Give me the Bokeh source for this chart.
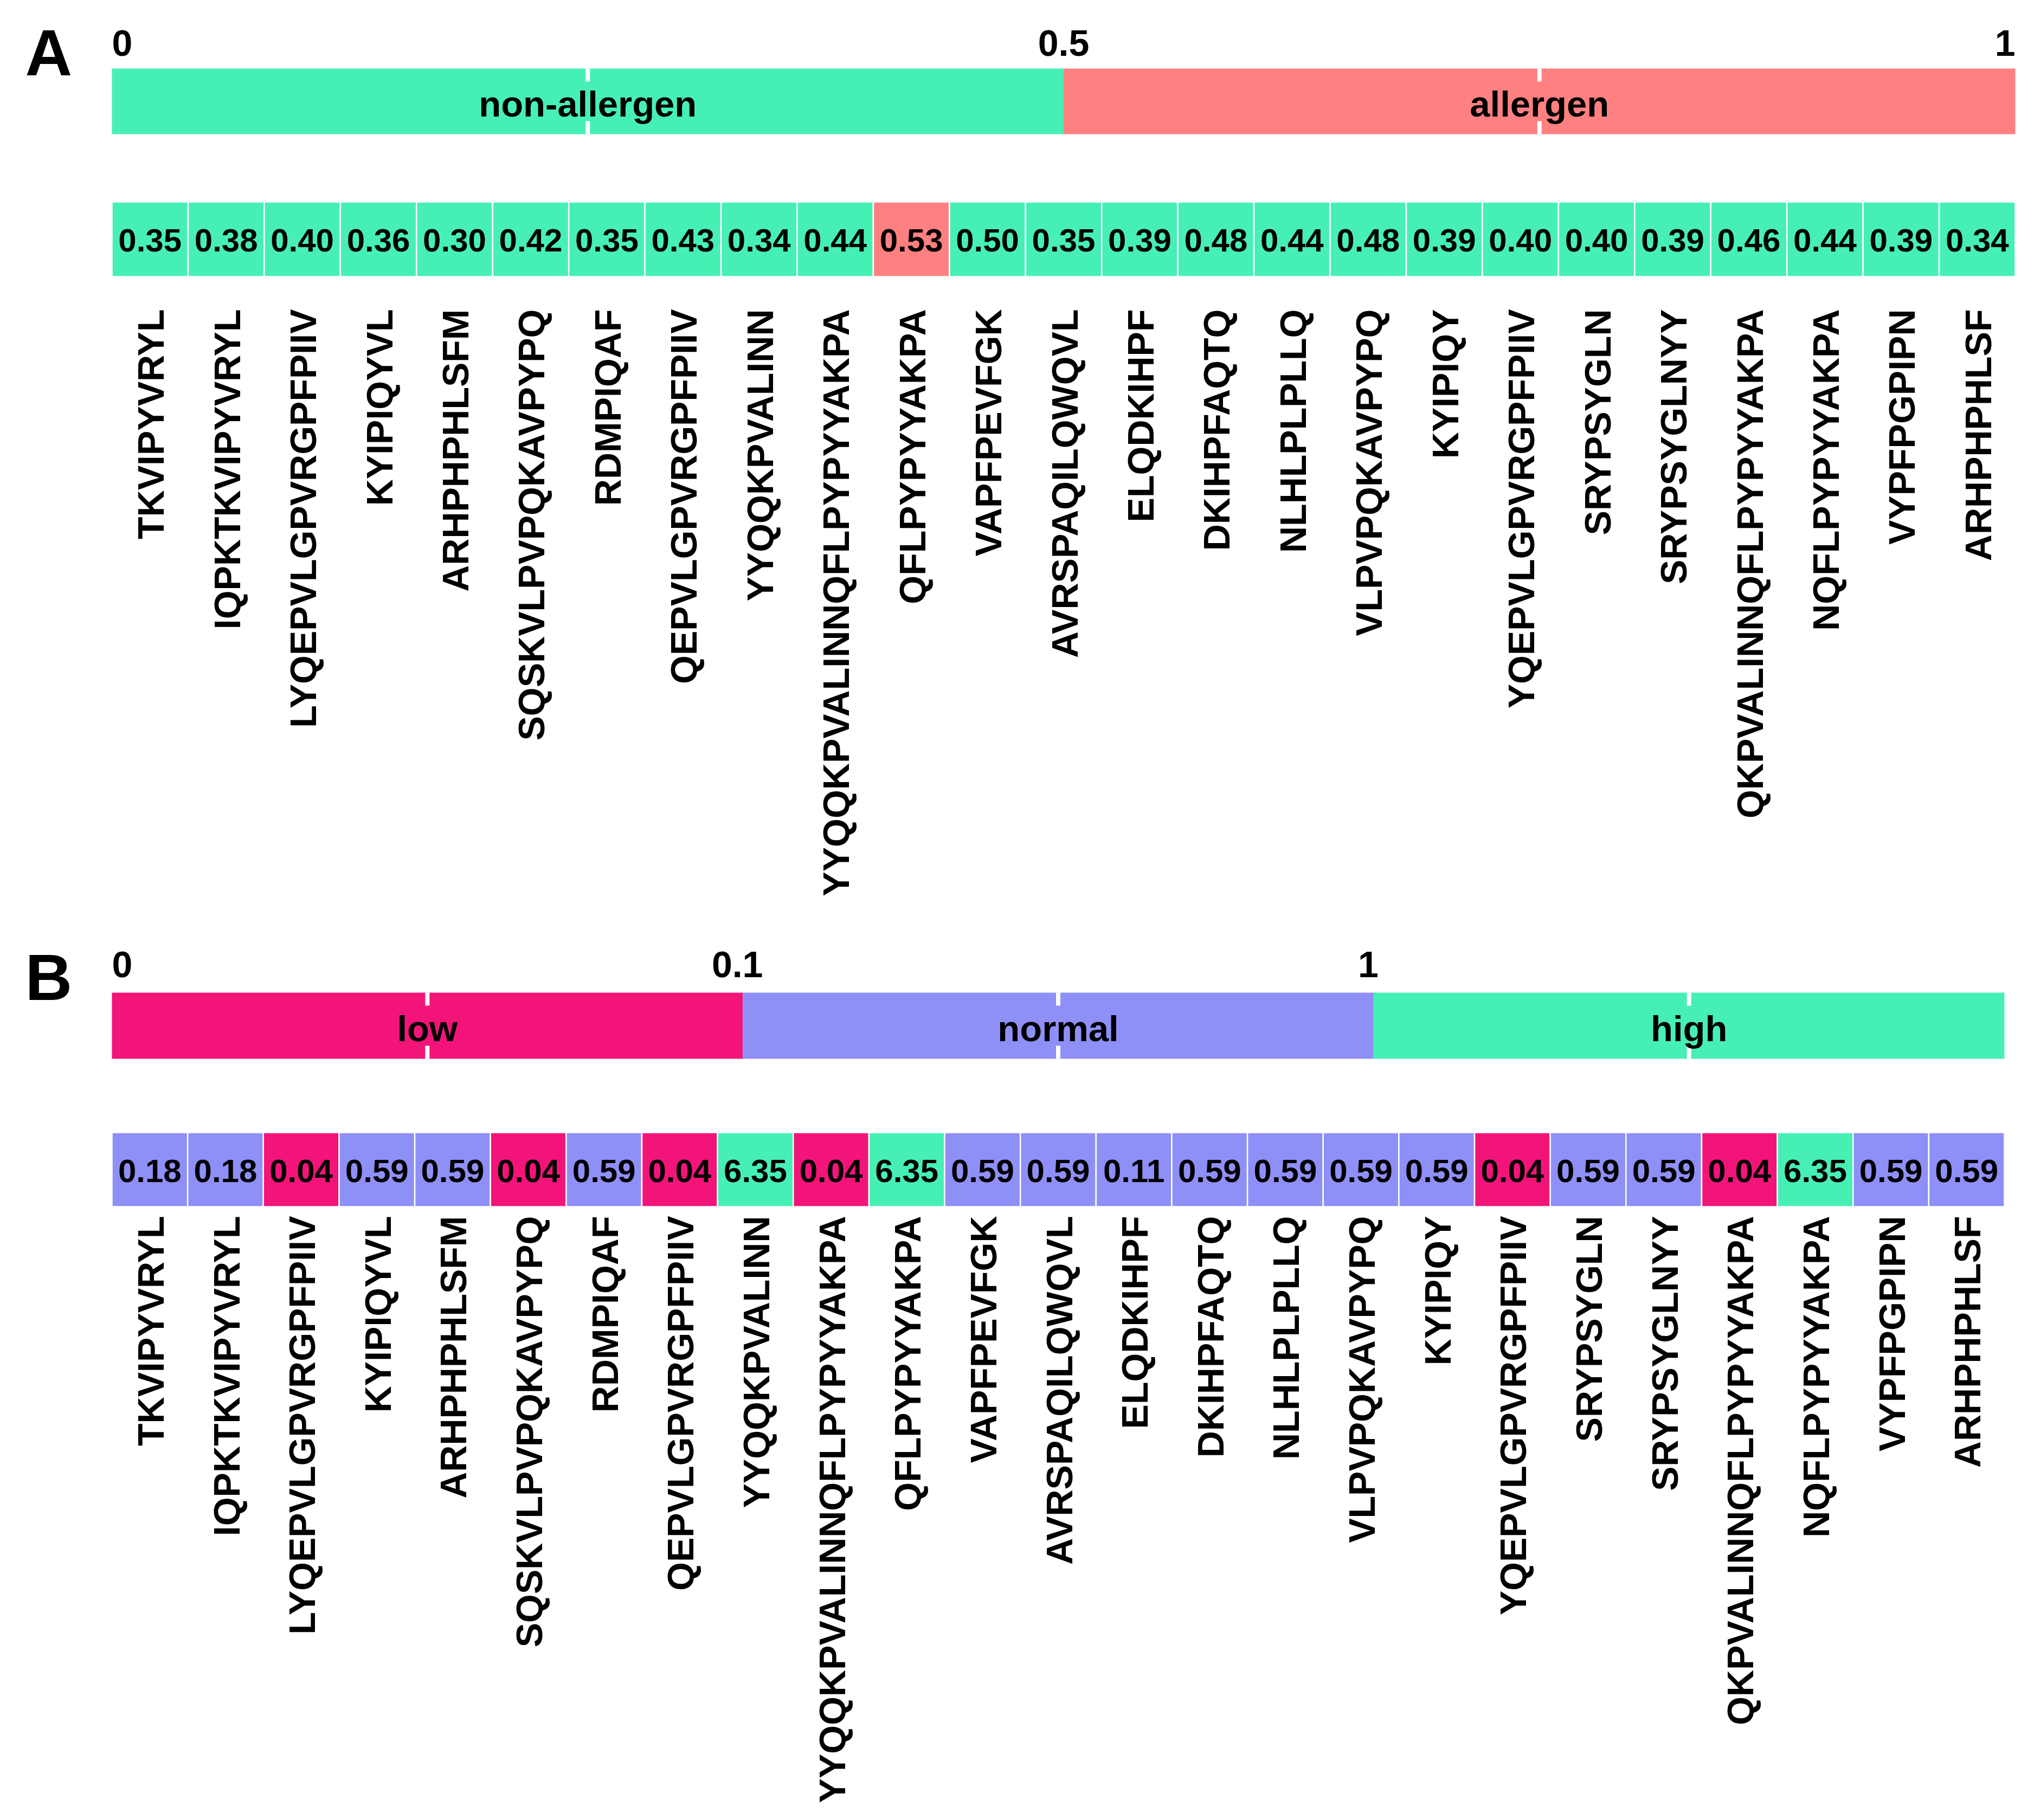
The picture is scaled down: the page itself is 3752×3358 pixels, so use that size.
import math
from bokeh.plotting import figure
from bokeh.layouts import column
from bokeh.models import Range1d
from bokeh.core.properties import value
from bokeh.embed import file_html
from bokeh.resources import INLINE

# ---------------- data ----------------
peptides = [
    "TKVIPYVRYL", "IQPKTKVIPYVRYL", "LYQEPVLGPVRGPFPIIV", "KYIPIQYVL",
    "ARHPHPHLSFM", "SQSKVLPVPQKAVPYPQ", "RDMPIQAF", "QEPVLGPVRGPFPIIV",
    "YYQQKPVALINN", "YYQQKPVALINNQFLPYPYYAKPA", "QFLPYPYYAKPA", "VAPFPEVFGK",
    "AVRSPAQILQWQVL", "ELQDKIHPF", "DKIHPFAQTQ", "NLHLPLPLLQ",
    "VLPVPQKAVPYPQ", "KYIPIQY", "YQEPVLGPVRGPFPIIV", "SRYPSYGLN",
    "SRYPSYGLNYY", "QKPVALINNQFLPYPYYAKPA", "NQFLPYPYYAKPA", "VYPFPGPIPN",
    "ARHPHPHLSF",
]
allergen_scores = [
    0.35, 0.38, 0.40, 0.36, 0.30, 0.42, 0.35, 0.43, 0.34, 0.44, 0.53, 0.50,
    0.35, 0.39, 0.48, 0.44, 0.48, 0.39, 0.40, 0.40, 0.39, 0.46, 0.44, 0.39, 0.34,
]
halflife_values = [
    0.18, 0.18, 0.04, 0.59, 0.59, 0.04, 0.59, 0.04, 6.35, 0.04, 6.35, 0.59,
    0.59, 0.11, 0.59, 0.59, 0.59, 0.59, 0.04, 0.59, 0.59, 0.04, 6.35, 0.59, 0.59,
]

A_classes = ["non-allergen", "allergen"]
A_tick_labels = ["0", "0.5", "1"]
A_threshold = 0.5

B_classes = ["low", "normal", "high"]
B_tick_labels = ["0", "0.1", "1"]
B_thresholds = [0.1, 1.0]

# ---------------- styles ----------------
GREEN = "#46F0B4"
SALMON = "#FF8080"
PINK = "#F3147A"
LAVENDER = "#8F8FF8"
A_colors = [GREEN, SALMON]
B_colors = [PINK, LAVENDER, GREEN]
FONT = value("Liberation Sans")
DESC = 0.33  # baseline correction (fraction of font size)

W = 3736
OFFSET = 0


def classify_A(v):
    return 1 if v > A_threshold else 0


def classify_B(v):
    if v < B_thresholds[0]:
        return 0
    if v <= B_thresholds[1]:
        return 1
    return 2


def make_panel(H, lay, letter, classes, colors, tick_labels, values, cls_func):
    n = len(values)
    upp = n / (lay["cells_right"] - lay["cells_left"])
    x0 = -(lay["cells_left"] - OFFSET) * upp

    def px(page_x):
        return x0 + (page_x - OFFSET) * upp

    p = figure(width=W, height=H, x_range=Range1d(x0, x0 + W * upp),
               y_range=Range1d(H, 0), x_axis_type=None, y_axis_type=None,
               output_backend="svg", toolbar_location=None, min_border=0)
    p.grid.visible = False
    p.outline_line_color = None
    p.background_fill_color = "white"
    p.border_fill_color = "white"

    def base(y, size):
        return y - DESC * size

    # panel letter
    p.text(x=[px(46)], y=[base(lay["letter_base"] + 6, 120)], text=[letter],
           text_font=FONT, text_font_style="bold", text_font_size="120px",
           text_color="black", text_align="left", text_baseline="alphabetic")

    # legend bar: equal-width class segments spanning the cell row
    k = len(classes)
    edges = [n * j / k for j in range(k + 1)]
    lefts = edges[:-1]
    rights = edges[1:]
    centers = [(a + b) / 2 for a, b in zip(lefts, rights)]
    p.quad(left=lefts, right=rights, top=[lay["bar_top"]] * k,
           bottom=[lay["bar_bottom"]] * k, fill_color=colors, line_color=None)
    tl = 24
    p.segment(x0=centers, x1=centers, y0=[lay["bar_top"]] * k,
              y1=[lay["bar_top"] + tl] * k, line_color="white", line_width=8)
    p.segment(x0=centers, x1=centers, y0=[lay["bar_bottom"] - tl] * k,
              y1=[lay["bar_bottom"]] * k, line_color="white", line_width=8)
    bar_mid = (lay["bar_top"] + lay["bar_bottom"]) / 2
    p.text(x=centers, y=[base(bar_mid + 27, 67)] * k, text=classes,
           text_font=FONT, text_font_style="bold", text_font_size="67px",
           text_color="black", text_align="center", text_baseline="alphabetic")

    # legend tick labels at class boundaries
    for tx, tt in zip(edges, tick_labels):
        if tx == edges[0]:
            al = "left"
            dx = 0
        elif tx == edges[-1]:
            al = "right"
            dx = 0
        else:
            al = "center"
            dx = lay["tick_dx"] * upp
        p.text(x=[tx + dx], y=[base(lay["tick_base"], 68)], text=[tt],
               text_font=FONT, text_font_style="bold", text_font_size="68px",
               text_color="black", text_align=al, text_baseline="alphabetic")

    # cells
    idx = list(range(n))
    cell_colors = [colors[cls_func(v)] for v in values]
    p.quad(left=idx, right=[i + 1 for i in idx], top=[lay["cell_top"]] * n,
           bottom=[lay["cell_bottom"]] * n, fill_color=cell_colors,
           line_color="white", line_width=2.5)
    cell_mid = (lay["cell_top"] + lay["cell_bottom"]) / 2
    p.text(x=[i + 0.5 for i in idx], y=[base(cell_mid + 22, 60)] * n,
           text=["%.2f" % v for v in values], text_font=FONT,
           text_font_style="bold", text_font_size="60px", text_color="black",
           text_align="center", text_baseline="alphabetic")

    # rotated peptide labels
    shift = (24 - DESC * 68) * upp
    p.text(x=[i + 0.5 + shift for i in idx], y=[lay["label_top"]] * n,
           text=peptides, angle=math.pi / 2, text_font=FONT,
           text_font_style="bold", text_font_size="68px", text_color="black",
           text_align="right", text_baseline="alphabetic")
    return p


HA = 1700
HB = 3342 - HA
topA = OFFSET
topB = OFFSET + HA

layA = dict(cells_left=206, cells_right=3717,
            letter_base=130 - topA, tick_base=101 - topA, tick_dx=0,
            bar_top=126 - topA, bar_bottom=247 - topA,
            cell_top=372 - topA, cell_bottom=510 - topA,
            label_top=570 - topA)
layB = dict(cells_left=206, cells_right=3697,
            letter_base=1836 - topB, tick_base=1801 - topB, tick_dx=-10,
            bar_top=1831 - topB, bar_bottom=1953 - topB,
            cell_top=2089 - topB, cell_bottom=2226 - topB,
            label_top=2243 - topB)

pA = make_panel(HA, layA, "A", A_classes, A_colors, A_tick_labels,
                allergen_scores, classify_A)
pB = make_panel(HB, layB, "B", B_classes, B_colors, B_tick_labels,
                halflife_values, classify_B)

layout = column(pA, pB, spacing=0)
open("out.html", "w").write(file_html(layout, INLINE))
